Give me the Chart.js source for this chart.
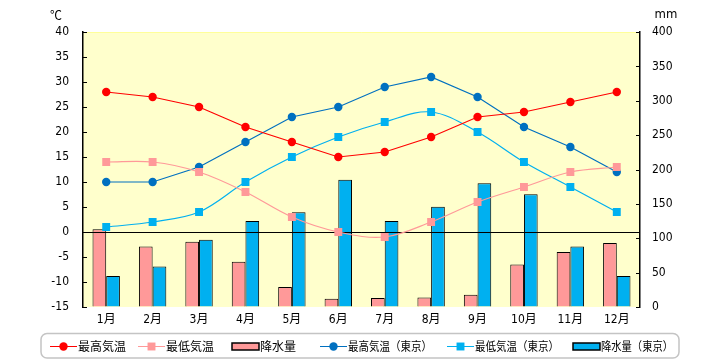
<!DOCTYPE html>
<html>
<head>
<meta charset="utf-8">
<script src="https://cdn.jsdelivr.net/npm/chart.js@4.4.1/dist/chart.umd.min.js"></script>
<style>
  html, body { margin: 0; padding: 0; background: #fff; }
  #wrap { width: 720px; height: 360px; }
</style>
</head>
<body>
<div id="wrap"><canvas id="chart" width="720" height="360"></canvas></div>
<script>
// monthly values
const months = ['1月', '2月', '3月', '4月', '5月', '6月', '7月', '8月', '9月', '10月', '11月', '12月'];
const maxTemp = [28, 27, 25, 21, 18, 15, 16, 19, 23, 24, 26, 28];
const minTemp = [14, 14, 12, 8, 3, 0, -1, 2, 6, 9, 12, 13];
const rain = [113, 88, 95, 66, 29, 12, 13, 14, 18, 62, 80, 93];
const maxTempTokyo = [10, 10, 13, 18, 23, 25, 29, 31, 27, 21, 17, 12];
const minTempTokyo = [1, 2, 4, 10, 15, 19, 22, 24, 20, 14, 9, 4];
const rainTokyo = [45, 59, 98, 125, 138, 185, 125, 146, 180, 164, 88, 45];

const tempTicks = { min: -15, max: 40, step: 5 };
const rainTicks = { min: 0, max: 400, step: 50 };

// legend layout (x start of each entry, text width)
const legendX = [50, 138, 232, 320, 447, 573];
const legendTextW = [48, 48, 36, 84, 84, 72];

const numFont = '"Liberation Sans Narrow", "DejaVu Sans Condensed", "Noto Sans CJK JP", sans-serif';
const jpFont = '"Noto Sans CJK JP", sans-serif';

Chart.defaults.font.family = numFont;
Chart.defaults.font.size = 12;
Chart.defaults.color = '#000';

const plotBg = {
    id: 'plotBg',
    beforeDraw(chart) {
        const {ctx, chartArea: a} = chart;
        ctx.save();
        ctx.fillStyle = '#FFFFCC';
        ctx.fillRect(a.left, a.top, a.right - a.left, a.bottom - a.top);
        ctx.strokeStyle = '#FFFF99';
        ctx.lineWidth = 1;
        ctx.beginPath();
        ctx.moveTo(a.left, a.top + 0.5);
        ctx.lineTo(a.right, a.top + 0.5);
        ctx.stroke();
        ctx.restore();
    }
};

// 0 ℃ line sits on top of the bars
const zeroLine = {
    id: 'zeroLine',
    afterDatasetDraw(chart, args) {
        if (args.meta.type !== 'bar') return;
        const {ctx, chartArea: a, scales} = chart;
        const py = Math.round(scales.y.getPixelForValue(0)) + 0.5;
        ctx.save();
        ctx.strokeStyle = '#000';
        ctx.lineWidth = 1;
        ctx.beginPath();
        ctx.moveTo(a.left, py);
        ctx.lineTo(a.right, py);
        ctx.stroke();
        ctx.restore();
    }
};

const extras = {
    id: 'extras',
    afterDraw(chart) {
        const {ctx, scales} = chart;
        ctx.save();
        // inward tick marks
        ctx.strokeStyle = '#000';
        ctx.lineWidth = 1;
        ctx.beginPath();
        scales.y.ticks.forEach(t => {
            const py = Math.round(scales.y.getPixelForValue(t.value)) + 0.5;
            ctx.moveTo(scales.y.right, py);
            ctx.lineTo(scales.y.right + 4, py);
        });
        scales.y1.ticks.forEach(t => {
            const py = Math.round(scales.y1.getPixelForValue(t.value)) + 0.5;
            ctx.moveTo(scales.y1.left - 4, py);
            ctx.lineTo(scales.y1.left, py);
        });
        ctx.stroke();

        // units
        ctx.fillStyle = '#000';
        ctx.font = '12px ' + jpFont;
        ctx.textAlign = 'center';
        ctx.textBaseline = 'middle';
        ctx.fillText('℃', 56, 15);
        ctx.font = '13px ' + numFont;
        ctx.fillText('mm', 666, 15);

        // legend box
        ctx.strokeStyle = '#C4C4C4';
        ctx.lineWidth = 1.5;
        ctx.beginPath();
        ctx.roundRect(41, 333.5, 638, 24.5, 6);
        ctx.stroke();

        const ly = 346.5;
        chart.data.datasets.forEach((ds, i) => {
            const x = legendX[i];
            if (ds.type === 'bar') {
                ctx.fillStyle = ds.backgroundColor;
                ctx.fillRect(x, ly - 3.5, 27, 7);
                ctx.strokeStyle = '#000';
                ctx.lineWidth = 1.5;
                ctx.strokeRect(x, ly - 3.5, 27, 7);
            } else {
                ctx.strokeStyle = ds.borderColor;
                ctx.lineWidth = 1;
                ctx.beginPath();
                ctx.moveTo(x, ly);
                ctx.lineTo(x + 27, ly);
                ctx.stroke();
                ctx.fillStyle = ds.pointBackgroundColor;
                Chart.helpers.drawPoint(ctx, {
                    pointStyle: ds.pointStyle, radius: ds.pointRadius, rotation: 0, borderWidth: 0
                }, x + 13.5, ly);
            }
            ctx.fillStyle = '#000';
            ctx.font = '12px ' + jpFont;
            ctx.textAlign = 'left';
            ctx.textBaseline = 'middle';
            ctx.fillText(ds.label, x + 28, ly, legendTextW[i]);
        });
        ctx.restore();
    }
};

function lineSet(label, data, color, style, radius, tension) {
    return {
        type: 'line',
        label: label,
        data: data,
        yAxisID: 'y',
        borderColor: color,
        borderWidth: 1.2,
        pointStyle: style,
        pointRadius: radius,
        pointBackgroundColor: color,
        pointBorderWidth: 0,
        tension: tension,
        order: 0
    };
}

function barSet(label, data, color) {
    return {
        type: 'bar',
        label: label,
        data: data,
        yAxisID: 'y1',
        backgroundColor: color,
        borderColor: '#000',
        borderWidth: 1,
        categoryPercentage: 0.59,
        barPercentage: 1.0,
        order: 1
    };
}

new Chart(document.getElementById('chart'), {
    data: {
        labels: months,
        datasets: [
            lineSet('最高気温', maxTemp, '#FF0000', 'circle', 4.2, 0),
            lineSet('最低気温', minTemp, '#FF9999', 'rect', 5.6, 0.35),
            barSet('降水量', rain, '#FF9999'),
            lineSet('最高気温（東京）', maxTempTokyo, '#0070C0', 'circle', 4.2, 0),
            lineSet('最低気温（東京）', minTempTokyo, '#00B0F0', 'rect', 5.6, 0.35),
            barSet('降水量（東京）', rainTokyo, '#00B0F0')
        ]
    },
    options: {
        responsive: false,
        animation: false,
        layout: { padding: { top: 32, left: 0, right: 0, bottom: 0 } },
        plugins: {
            legend: { display: false },
            tooltip: { enabled: false }
        },
        scales: {
            x: {
                grid: { display: false, drawTicks: false },
                border: { display: false },
                ticks: { padding: 6, font: { size: 12 } },
                afterFit(s) { s.height = 53; }
            },
            y: {
                position: 'left',
                min: tempTicks.min,
                max: tempTicks.max,
                ticks: { stepSize: tempTicks.step, padding: 14 },
                grid: { drawTicks: false, drawOnChartArea: false },
                border: { display: true, color: '#000', width: 1.5 },
                afterFit(s) { s.width = 83; }
            },
            y1: {
                position: 'right',
                min: rainTicks.min,
                max: rainTicks.max,
                ticks: { stepSize: rainTicks.step, padding: 12 },
                grid: { drawTicks: false, drawOnChartArea: false },
                border: { display: true, color: '#000', width: 1.5 },
                afterFit(s) { s.width = 80; }
            }
        }
    },
    plugins: [plotBg, zeroLine, extras]
});
</script>
</body>
</html>
